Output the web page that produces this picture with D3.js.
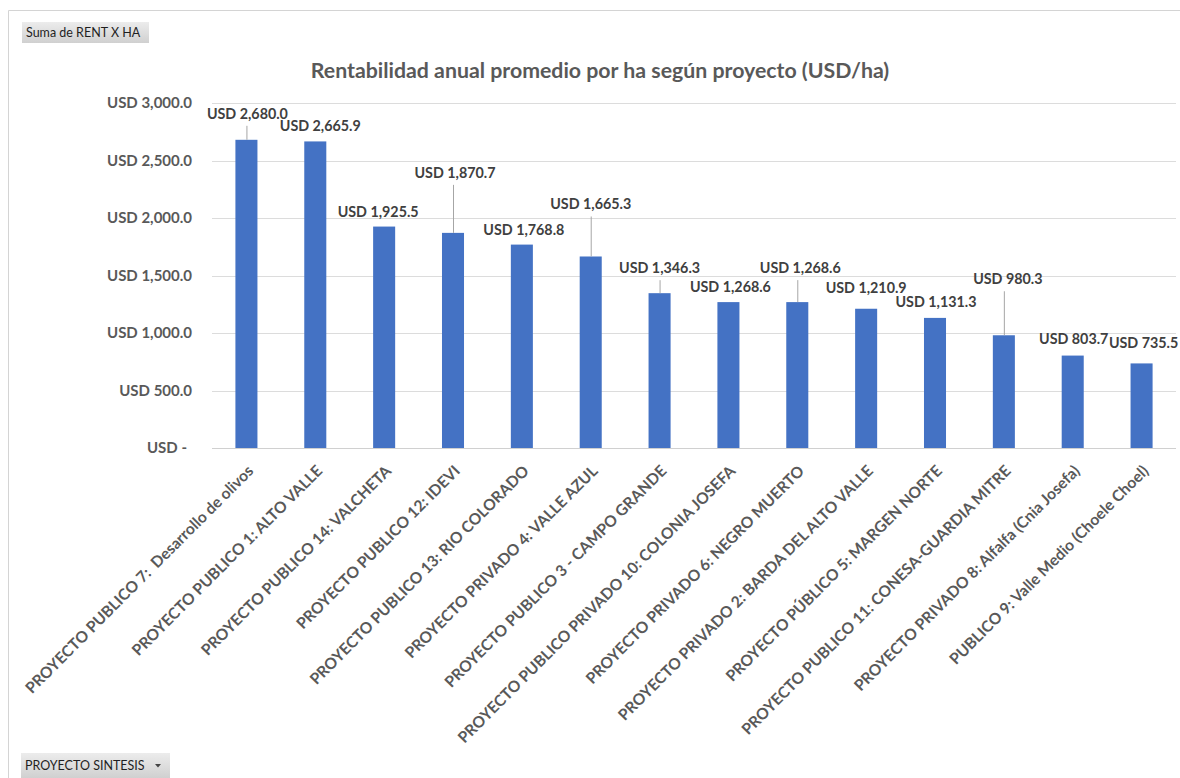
<!DOCTYPE html>
<html>
<head>
<meta charset="utf-8">
<script src="https://cdn.jsdelivr.net/npm/d3@7"></script>
<style>
  html, body { margin: 0; padding: 0; background: #fff; }
  svg { display: block; }
</style>
</head>
<body>
<svg id="chart" width="1180" height="778"></svg>
<script>
// Projects, sorted by average annual profitability per hectare
const categories = [
  "PROYECTO PUBLICO 7:  Desarrollo de olivos",
  "PROYECTO PUBLICO 1: ALTO VALLE",
  "PROYECTO PUBLICO 14: VALCHETA",
  "PROYECTO PUBLICO 12: IDEVI",
  "PROYECTO PUBLICO 13: RIO COLORADO",
  "PROYECTO PRIVADO 4: VALLE AZUL",
  "PROYECTO PUBLICO 3 - CAMPO GRANDE",
  "PROYECTO PUBLICO PRIVADO 10: COLONIA JOSEFA",
  "PROYECTO PRIVADO 6: NEGRO MUERTO",
  "PROYECTO PRIVADO 2: BARDA DEL ALTO VALLE",
  "PROYECTO PÚBLICO 5: MARGEN NORTE",
  "PROYECTO PUBLICO 11: CONESA-GUARDIA MITRE",
  "PROYECTO PRIVADO 8: Alfalfa (Cnia Josefa)",
  "PUBLICO 9: Valle Medio (Choele Choel)"
];

// Suma de RENT X HA (USD/ha)
const rentPorHa = [2680.0, 2665.9, 1925.5, 1870.7, 1768.8, 1665.3, 1346.3,
                   1268.6, 1268.6, 1210.9, 1131.3, 980.3, 803.7, 735.5];

const yTicks = [0, 500, 1000, 1500, 2000, 2500, 3000];

// Data-label placement (pixel nudges from the top of each bar)
const labelDx = [1, 5, -6, 2, 2, 0, 0, 2, 3, 0, 1, 4, 1, 2];
const labelDy = [-26, -15, -15, -60, -15, -52, -25, -15, -34, -21, -16, -56, -17, -20];

const svg = d3.select("#chart");
const margin = { left: 212, right: 1176, top: 103, bottom: 448 };
const textColor = "#595959";
const fontFam = "Lato, 'Open Sans', sans-serif";

// Outer chart frame
svg.append("path")
  .attr("d", "M8.5,780 V10.5 H1182")
  .attr("fill", "none")
  .attr("stroke", "#d4d4d4")
  .attr("stroke-width", 1);

const x = d3.scaleBand()
  .domain(categories)
  .range([margin.left, margin.right])
  .paddingInner(0.68)
  .paddingOuter(0.34);

const y = d3.scaleLinear()
  .domain([0, 3000])
  .range([margin.bottom, margin.top]);

// Gridlines
svg.append("g")
  .selectAll("line")
  .data(yTicks)
  .join("line")
  .attr("x1", margin.left)
  .attr("x2", margin.right)
  .attr("y1", d => Math.round(y(d)) + 0.5)
  .attr("y2", d => Math.round(y(d)) + 0.5)
  .attr("stroke", d => d === 0 ? "#d0d0d0" : "#dcdcdc")
  .attr("stroke-width", 1);

// Y axis labels
const fmt = d3.format(",.1f");
const yAxis = d3.axisLeft(y)
  .tickValues(yTicks)
  .tickSize(0)
  .tickPadding(20)
  .tickFormat(d => d === 0 ? "USD -" : "USD " + fmt(d));
const yg = svg.append("g")
  .attr("transform", `translate(${margin.left},0)`)
  .call(yAxis);
yg.select(".domain").remove();
yg.selectAll("text")
  .attr("dx", d => d === 0 ? -5 : 0)
  .attr("fill", textColor)
  .style("font-family", fontFam)
  .style("font-size", "15px")
  .style("font-weight", "700");

// Bars
svg.append("g")
  .selectAll("rect")
  .data(rentPorHa)
  .join("rect")
  .attr("x", (d, i) => x(categories[i]))
  .attr("width", x.bandwidth())
  .attr("y", d => y(d))
  .attr("height", d => y(0) - y(d))
  .attr("fill", "#4472C4");

// Data labels with leader lines
const lbl = svg.append("g");
rentPorHa.forEach((v, i) => {
  const cx = x(categories[i]) + x.bandwidth() / 2;
  const top = y(v);
  const lx = cx + labelDx[i];
  const ly = top + labelDy[i];
  if (labelDy[i] < -22) {
    lbl.append("line")
      .attr("x1", cx + 0.5).attr("x2", cx + 0.5)
      .attr("y1", ly + 12).attr("y2", top)
      .attr("stroke", "#a6a6a6").attr("stroke-width", 1);
  }
  lbl.append("text")
    .attr("x", lx)
    .attr("y", ly + 5)
    .attr("text-anchor", "middle")
    .attr("fill", "#404040")
    .style("font-family", fontFam)
    .style("font-size", "14.3px")
    .style("font-weight", "700")
    .text("USD " + fmt(v));
});

// Category axis labels, rotated
const xAxis = d3.axisBottom(x).tickSize(0).tickPadding(0);
const xg = svg.append("g")
  .attr("transform", `translate(0,${margin.bottom})`)
  .call(xAxis);
xg.select(".domain").remove();
xg.selectAll("text")
  .attr("text-anchor", "end")
  .attr("dy", 0)
  .attr("y", 0)
  .attr("transform", "translate(8,24) rotate(-45)")
  .attr("fill", textColor)
  .style("font-family", fontFam)
  .style("font-size", "15.6px")
  .style("font-weight", "700")
  .style("white-space", "pre");

// Title
svg.append("text")
  .attr("x", 600)
  .attr("y", 78)
  .attr("text-anchor", "middle")
  .attr("fill", textColor)
  .style("font-family", fontFam)
  .style("font-size", "21.3px")
  .style("font-weight", "700")
  .text("Rentabilidad anual promedio por ha según proyecto (USD/ha)");

// Pivot field buttons
const grad = svg.append("defs").append("linearGradient")
  .attr("id", "btn").attr("x1", 0).attr("x2", 0).attr("y1", 0).attr("y2", 1);
grad.append("stop").attr("offset", "0%").attr("stop-color", "#ececec");
grad.append("stop").attr("offset", "100%").attr("stop-color", "#d0d0d0");

function button(bx, by, w, h, label, arrow) {
  const g = svg.append("g").attr("transform", `translate(${bx},${by})`);
  g.append("rect").attr("width", w).attr("height", h).attr("fill", "url(#btn)");
  g.append("text")
    .attr("x", 4).attr("y", h / 2 + 4.5)
    .attr("fill", "#1f1f1f")
    .style("font-family", fontFam)
    .style("font-size", "12.5px")
    .text(label);
  if (arrow) {
    g.append("path")
      .attr("d", `M${w - 15},${h / 2 - 1.5} h6 l-3,3.5 z`)
      .attr("fill", "#444");
  }
}
button(22, 22, 127, 21, "Suma de RENT X HA", false);
button(21, 753, 149, 25, "PROYECTO SINTESIS", true);
</script>
</body>
</html>
